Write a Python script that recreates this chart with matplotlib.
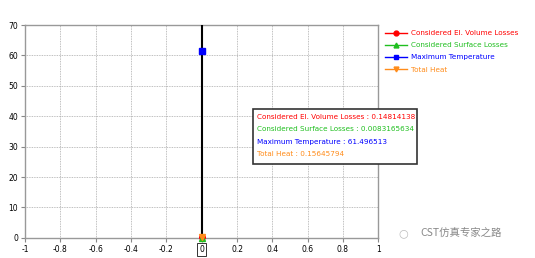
import matplotlib as mpl
from matplotlib import pyplot as plt
from matplotlib.lines import Line2D
from matplotlib.patches import Rectangle

SERIES = [
    "Considered El. Volume Losses",
    "Considered Surface Losses",
    "Maximum Temperature",
    "Total Heat",
]
VALUES = [0.14814138, 0.0083165634, 61.496513, 0.15645794]
VALUE_TEXT = ["0.14814138", "0.0083165634", "61.496513", "0.15645794"]
COLORS = ["#ff0000", "#1fbf1f", "#0000ff", "#ff8c1a"]
MARKERS = ["o", "^", "s", "v"]
X_POS = 0.0
XTICKS = [-1, -0.8, -0.6, -0.4, -0.2, 0, 0.2, 0.4, 0.6, 0.8, 1]
YTICKS = [0, 10, 20, 30, 40, 50, 60, 70]
FONTSIZE = 5.2

mpl.rcParams["font.family"] = ["DejaVu Sans"]


def main():
    fig = plt.figure(figsize=(5.35, 2.58), dpi=100)
    ax = fig.add_axes([0.047, 0.078, 0.660, 0.825])
    ax.set_xlim(-1, 1)
    ax.set_ylim(0, 70)
    ax.set_xticks(XTICKS)
    ax.set_yticks(YTICKS)
    ax.set_xticklabels(["%g" % t for t in XTICKS])
    ax.tick_params(labelsize=5.5, length=3, color="#888888", pad=2)
    ax.grid(True, linestyle=(0, (1, 1)), color="#aaaaaa", linewidth=0.6)
    for s in ax.spines.values():
        s.set_color("#999999")
        s.set_linewidth(1)

    # boxed label at the cursor position
    for lbl, t in zip(ax.get_xticklabels(), XTICKS):
        if t == 0:
            lbl.set_bbox(dict(boxstyle="square,pad=0.25", fc="white", ec="#333333", lw=0.7))

    ax.axvline(X_POS, color="black", linewidth=1.5, zorder=3)
    for v, c, m in zip(VALUES, COLORS, MARKERS):
        ax.plot([X_POS], [v], marker=m, color=c, markersize=4, zorder=4, clip_on=False)

    # tooltip box (spills past the right edge of the plot)
    fig.patches.append(Rectangle((0.473, 0.364), 0.306, 0.2135, transform=fig.transFigure,
                                 fc="white", ec="#333333", lw=1.2, zorder=5))
    for i, (n, v, c) in enumerate(zip(SERIES, VALUE_TEXT, COLORS)):
        fig.text(0.480, 0.546 - i * 0.0475, f"{n} : {v}", fontsize=FONTSIZE,
                 va="center", ha="left", color=c, zorder=6)

    handles = [Line2D([0], [0], color=c, marker=m, markersize=3.5, linewidth=1)
               for c, m in zip(COLORS, MARKERS)]
    leg = fig.legend(handles, SERIES, loc="upper left", bbox_to_anchor=(0.715, 0.895),
                     frameon=False, fontsize=FONTSIZE, handlelength=3, labelspacing=0.85,
                     borderaxespad=0, handletextpad=0.5)
    for text, c in zip(leg.get_texts(), COLORS):
        text.set_color(c)

    fig.text(0.745, 0.095, "\u25cb", fontsize=8, color="#bbbbbb", ha="left", va="center")
    fig.text(0.785, 0.095, "CST仿真专家之路", fontsize=7.5, color="#888888", ha="left",
             va="center", family=["Noto Sans CJK SC", "DejaVu Sans"])

    fig.savefig("out.png", dpi=100)
    plt.close(fig)


if __name__ == "__main__":
    main()
